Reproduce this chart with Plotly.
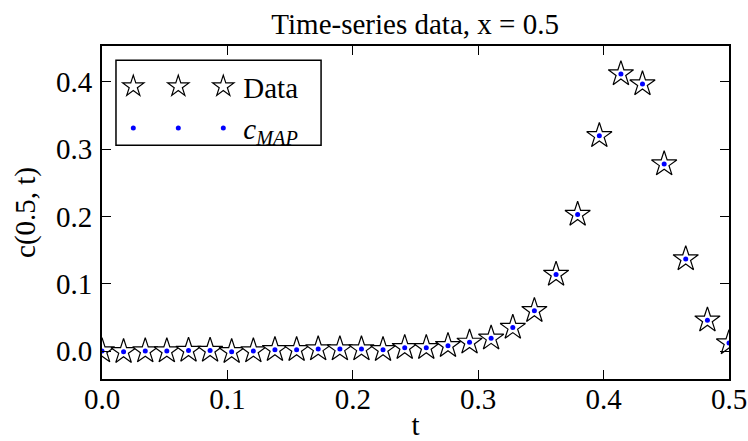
import plotly.graph_objects as go

# Sample times (30 evenly spaced snapshots on [0, 0.5])
t = [0.0, 0.0172, 0.0345, 0.0517, 0.0690, 0.0862, 0.1034, 0.1207, 0.1379, 0.1552,
     0.1724, 0.1897, 0.2069, 0.2241, 0.2414, 0.2586, 0.2759, 0.2931, 0.3103, 0.3276,
     0.3448, 0.3621, 0.3793, 0.3966, 0.4138, 0.4310, 0.4483, 0.4655, 0.4828, 0.5]

# Observed concentration at x = 0.5
c_data = [0.000, -0.001, 0.000, 0.000, 0.001, 0.001, -0.001, 0.000, 0.002, 0.002,
          0.003, 0.003, 0.003, 0.002, 0.005, 0.005, 0.008, 0.013, 0.019, 0.035,
          0.060, 0.114, 0.203, 0.320, 0.412, 0.397, 0.278, 0.137, 0.046, 0.012]

# MAP estimate at the same times
c_map = [0.000, -0.001, 0.000, 0.000, 0.001, 0.001, -0.001, 0.000, 0.002, 0.002,
         0.003, 0.003, 0.003, 0.002, 0.005, 0.005, 0.008, 0.013, 0.019, 0.035,
         0.060, 0.114, 0.203, 0.320, 0.412, 0.397, 0.278, 0.137, 0.046, 0.012]

x_ticks = [0.0, 0.1, 0.2, 0.3, 0.4, 0.5]
y_ticks = [0.0, 0.1, 0.2, 0.3, 0.4]

FONT = "Liberation Serif"
FS = 29

star_marker = dict(symbol="star", size=19, color="white",
                   line=dict(color="black", width=1.2))
dot_marker = dict(symbol="circle", size=5, color="#0000ff", line=dict(width=0))

fig = go.Figure()

# legend keys: three repeated symbols per entry
for _ in range(2):
    fig.add_trace(go.Scatter(x=[None], y=[None], mode="markers", marker=star_marker,
                             name="", legend="legend", hoverinfo="skip"))
fig.add_trace(go.Scatter(x=t, y=c_data, mode="markers", marker=star_marker,
                         name="Data", legend="legend"))
for _ in range(2):
    fig.add_trace(go.Scatter(x=[None], y=[None], mode="markers", marker=dot_marker,
                             name="", legend="legend2", hoverinfo="skip"))
fig.add_trace(go.Scatter(x=t, y=c_map, mode="markers", marker=dot_marker,
                         name="<i>c</i><sub><i>MAP</i></sub>", legend="legend2"))

axis_common = dict(
    showgrid=False, zeroline=False, showline=True, linecolor="black", linewidth=2,
    mirror="allticks", ticks="inside", ticklen=9, tickwidth=1, tickcolor="black",
    tickfont=dict(family=FONT, size=FS, color="black"), tickformat=".1f",
    automargin=False,
)

fig.update_layout(
    width=748, height=441,
    margin=dict(l=102, r=19, t=46, b=62),
    paper_bgcolor="white", plot_bgcolor="white",
    font=dict(family=FONT, size=FS, color="black"),
    title=dict(text="Time-series data, x = 0.5", x=0.555, xanchor="center",
               y=0.945, yanchor="middle", yref="container",
               font=dict(family=FONT, size=FS, color="black")),
    xaxis=dict(range=[0, 0.5], tickvals=x_ticks, ticklabelstandoff=-7,
               title=dict(text="t", standoff=26, font=dict(family=FONT, size=FS)),
               **axis_common),
    yaxis=dict(range=[-0.0415, 0.4535], tickvals=y_ticks, ticklabelstandoff=2,
               title=dict(text="c(0.5, t)", standoff=12, font=dict(family=FONT, size=FS)),
               **axis_common),
    legend=dict(orientation="h", x=0.018, y=0.955, xanchor="left", yanchor="top",
                bgcolor="rgba(0,0,0,0)", borderwidth=0, itemwidth=30,
                font=dict(family=FONT, size=FS)),
    legend2=dict(orientation="h", x=0.018, y=0.83, xanchor="left", yanchor="top",
                 bgcolor="rgba(0,0,0,0)", borderwidth=0, itemwidth=30,
                 font=dict(family=FONT, size=FS)),
    shapes=[dict(type="rect", xref="paper", yref="paper",
                 x0=0.0223, x1=0.3494, y0=0.702, y1=0.957,
                 line=dict(color="black", width=1.5), fillcolor="white", layer="below")],
)

fig.write_html("out.html")
